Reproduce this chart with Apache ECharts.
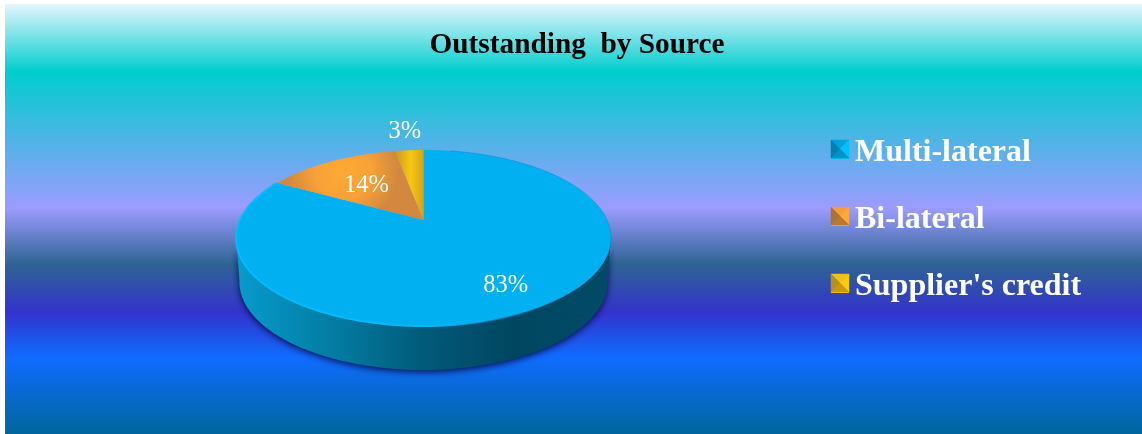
<!DOCTYPE html>
<html>
<head>
<meta charset="utf-8">
<title>Outstanding by Source</title>
<style>
  html, body { margin: 0; padding: 0; background: #fff; }
  #chart { width: 1142px; height: 434px; }
</style>
<script src="https://cdn.jsdelivr.net/npm/echarts@6/dist/echarts.min.js"></script>
</head>
<body>
<div id="chart"></div>
<script>
const categories = ['Multi-lateral', 'Bi-lateral', "Supplier's credit"];
const shares = [83, 14, 3];

// Tilted-disc projection: a point on the unit circle is seen through a
// perspective divide, so the wedge apex sits behind the ellipse centre.
const APEX = { x: 423.5, y: 220 };
const SCALE_X = 183.5, SCALE_Y = 84.3, PERSPECTIVE = 0.2045;
const DEPTH = 44, BASE_SHRINK = 0.982;
const LABEL_RADIUS = [0.763, 0.58, 1.39];
const LABEL_DROP = 2;

const FONT = '"Liberation Serif", "Times New Roman", serif';
const total = shares.reduce((a, b) => a + b, 0);

function project(deg, r) {
  const t = deg * Math.PI / 180;
  const s = Math.sin(t) * r, c = Math.cos(t) * r;
  const d = 1 + PERSPECTIVE * c;
  return [APEX.x + SCALE_X * s / d, APEX.y - SCALE_Y * c / d];
}
function arc(from, to) {
  const pts = [];
  const n = Math.max(2, Math.ceil(Math.abs(to - from)));
  for (let i = 0; i <= n; i++) pts.push(project(from + (to - from) * i / n, 1));
  return pts;
}
function lowered(p) {
  return [APEX.x + (p[0] - APEX.x) * BASE_SHRINK, p[1] + DEPTH];
}

const faceFills = [
  '#00b0f0',
  { type: 'radial', x: 0.45, y: 0.3, r: 0.8,
    colorStops: [{ offset: 0, color: '#ffa834' }, { offset: 0.5, color: '#f8a237' }, { offset: 1, color: '#d2883e' }] },
  { type: 'linear', x: 0, y: 0, x2: 1, y2: 0,
    colorStops: [{ offset: 0, color: '#c9981e' }, { offset: 0.55, color: '#f8c713' }, { offset: 1, color: '#d4a31b' }] }
];
const wallFill = {
  type: 'linear', x: 0, y: 0, x2: 1, y2: 0,
  colorStops: [
    { offset: 0, color: '#069ccd' },
    { offset: 0.3, color: '#03779c' },
    { offset: 0.5, color: '#025a7a' },
    { offset: 0.74, color: '#004660' },
    { offset: 1, color: '#004b69' }
  ]
};

// Start angle of each slice, clockwise from twelve o'clock.
const starts = shares.map((_, i) =>
  shares.slice(0, i).reduce((a, b) => a + b, 0) / total * 360);

function drawSlice(i) {
  return function (params, api) {
    const value = api.value(0);
    const from = starts[i];
    const to = from + value / total * 360;
    const children = [];

    // Front wall: the part of this slice that faces the viewer.
    const wallFrom = Math.max(from, 101), wallTo = Math.min(to, 259);
    if (wallTo > wallFrom) {
      const rim = arc(wallFrom, wallTo);
      children.push({
        type: 'polygon',
        shape: { points: rim.concat(rim.map(lowered).reverse()) },
        style: { fill: wallFill, shadowBlur: 7, shadowColor: 'rgba(8,10,70,0.95)', shadowOffsetX: 0, shadowOffsetY: 2 }
      });
    }

    // Top face, closed through the apex.
    children.push({
      type: 'polygon',
      shape: { points: [[APEX.x, APEX.y]].concat(arc(from, to)) },
      style: { fill: faceFills[i] }
    });

    // Lit edge along the front of the disc, soft dark edge on the far right.
    if (i === 0) {
      children.push({
        type: 'polyline',
        shape: { points: arc(140, to) },
        style: {
          fill: 'none', lineWidth: 2,
          stroke: { type: 'linear', x: 0, y: 0, x2: 1, y2: 0,
            colorStops: [{ offset: 0, color: '#00bdff' }, { offset: 0.6, color: '#00bbfd' }, { offset: 1, color: 'rgba(0,176,240,0)' }] }
        }
      });
      children.push({
        type: 'polyline',
        shape: { points: arc(10, 115) },
        style: { fill: 'none', lineWidth: 1, stroke: 'rgba(0,120,175,0.35)' }
      });
    }

    const at = (from + to) / 2;
    const tp = project(at, LABEL_RADIUS[i]);
    children.push({
      type: 'text',
      z2: 10,
      style: {
        text: value + '%', x: tp[0], y: tp[1] + LABEL_DROP,
        fill: '#ffffff', font: '24.5px ' + FONT, align: 'center', verticalAlign: 'middle'
      }
    });
    return { type: 'group', children };
  };
}

// Four-facet bevel over each legend key.
const KEY_X = 831, KEY_SIZE = 18, KEY_TOPS = [140, 207, 274];
const bevels = [
  ['#00a2da', '#00bfff', '#0092c4', '#0080b0'],
  ['#f0a040', '#ffa836', '#b87a30', '#b07230'],
  ['#f0c020', '#fdcb0e', '#c89a14', '#b89018']
];
function bevelElements() {
  const out = [];
  KEY_TOPS.forEach((top, k) => {
    const l = KEY_X, r = KEY_X + KEY_SIZE, b = top + KEY_SIZE, mx = l + KEY_SIZE / 2, my = top + KEY_SIZE / 2;
    const facets = [
      [[l, top], [r, top], [mx, my]],
      [[r, top], [r, b], [mx, my]],
      [[r, b], [l, b], [mx, my]],
      [[l, b], [l, top], [mx, my]]
    ];
    facets.forEach((pts, f) => out.push({
      type: 'polygon', z: 20, silent: true,
      shape: { points: pts },
      style: { fill: bevels[k][f], stroke: bevels[k][f], lineWidth: 0.5 }
    }));
  });
  return out;
}

const chart = echarts.init(document.getElementById('chart'), null, { renderer: 'canvas' });
chart.setOption({
  animation: false,
  title: {
    text: 'Outstanding  by Source',
    left: 572, top: 26, textAlign: 'center',
    textStyle: { color: '#000000', fontFamily: FONT, fontWeight: 'bold', fontSize: 29.3 }
  },
  legend: {
    orient: 'vertical',
    left: 831, top: 137, padding: 0,
    itemWidth: 18, itemHeight: 12, itemGap: 35,
    icon: 'rect',
    selectedMode: false,
    data: categories.map((name, i) => ({ name, itemStyle: { color: bevels[i][1] } })),
    textStyle: { color: '#ffffff', fontFamily: FONT, fontWeight: 'bold', fontSize: 32, padding: [0, 0, 0, 1] }
  },
  graphic: {
    elements: [
      {
        type: 'rect', z: -10, silent: true,
        shape: { x: 5, y: 4, width: 1137, height: 430 },
        style: {
          fill: {
            type: 'linear', x: 0, y: 0, x2: 0, y2: 1,
            colorStops: [
              { offset: 0, color: '#e6f5ff' },
              { offset: 0.158, color: '#00cdcd' },
              { offset: 0.474, color: '#9c9cff' },
              { offset: 0.605, color: '#2e6494' },
              { offset: 0.716, color: '#3333cc' },
              { offset: 0.823, color: '#0f6cff' },
              { offset: 1, color: '#00669c' }
            ]
          }
        }
      }
    ].concat(bevelElements())
  },
  series: categories.map((name, i) => ({
    type: 'custom',
    name,
    coordinateSystem: 'none',
    renderItem: drawSlice(i),
    itemStyle: { color: bevels[i][1] },
    silent: true,
    data: [[shares[i]]]
  }))
});
</script>
</body>
</html>
